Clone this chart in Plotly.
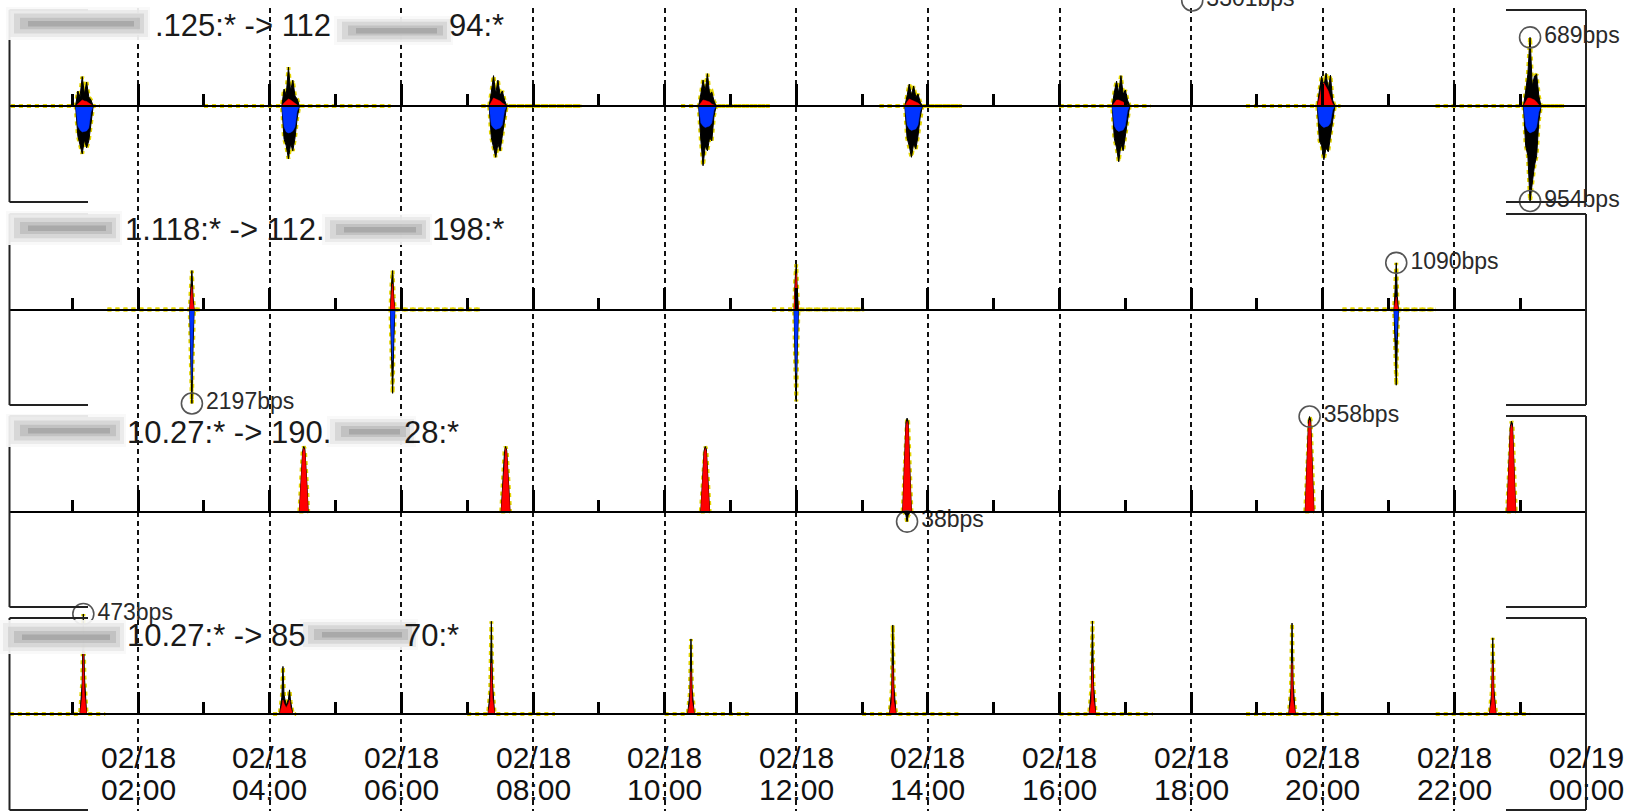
import plotly.graph_objects as go
import pandas as pd
import numpy as np

W, H = 1642, 811
BASE = pd.Timestamp("2025-02-18 00:00")
X_START = BASE + pd.Timedelta(minutes=2.7)
X_END = BASE + pd.Timedelta(hours=24)

# ---------------- data (minutes after 02/18 00:00, values in bps) ----------------
# Panel 1
p1_t = [4, 63, 65, 67, 69, 71, 73, 75, 77, 79, 85, None,
        180, 251, 253, 255, 257, 259, 261, 263, 265, 267, 350, None,
        433, 440, 442, 444, 446, 448, 450, 452, 454, 456, 524, None,
        615, 631, 633, 635, 637, 639, 641, 643, 645, 647, 696, None,
        796, 819, 821, 823, 825, 827, 829, 831, 833, 835, 871, None,
        960, 1008, 1010, 1012, 1014, 1016, 1018, 1020, 1022, 1024, 1043, None,
        1130, 1195, 1197, 1199, 1201, 1203, 1205, 1207, 1209, 1211, 1216, None,
        1303, 1383, 1385, 1387, 1389, 1391, 1393, 1395, 1397, 1399, 1420, None]
p1_up_max = [0, 0, 150, 90, 295, 120, 240, 90, 60, 0, 0, None,
             0, 0, 170, 110, 390, 150, 260, 100, 70, 0, 0, None,
             0, 0, 140, 305, 120, 260, 110, 150, 60, 0, 0, None,
             0, 0, 120, 260, 150, 325, 120, 140, 50, 0, 0, None,
             0, 0, 100, 220, 110, 200, 90, 120, 40, 0, 0, None,
             0, 0, 140, 250, 130, 305, 120, 160, 60, 0, 0, None,
             0, 0, 160, 300, 190, 330, 170, 310, 60, 0, 0, None,
             0, 0, 150, 320, 689, 200, 300, 320, 100, 0, 0, None]
p1_up_avg = [0, 0, 20, 40, 60, 50, 45, 30, 10, 0, 0, None,
             0, 0, 30, 50, 70, 60, 40, 30, 10, 0, 0, None,
             0, 0, 40, 80, 70, 60, 50, 30, 10, 0, 0, None,
             0, 0, 30, 60, 55, 50, 40, 20, 10, 0, 0, None,
             0, 0, 40, 70, 60, 50, 40, 30, 10, 0, 0, None,
             0, 0, 30, 60, 60, 50, 40, 20, 10, 0, 0, None,
             0, 0, 80, 200, 230, 190, 150, 80, 20, 0, 0, None,
             0, 0, 40, 80, 80, 70, 60, 40, 10, 0, 0, None]
p1_dn_max = [0, 0, 300, 380, 480, 340, 420, 350, 150, 0, 0, None,
             0, 0, 330, 400, 530, 380, 450, 320, 120, 0, 0, None,
             0, 0, 320, 420, 515, 380, 450, 300, 120, 0, 0, None,
             0, 0, 340, 600, 400, 450, 320, 350, 100, 0, 0, None,
             0, 0, 320, 400, 515, 380, 430, 300, 110, 0, 0, None,
             0, 0, 330, 420, 560, 380, 450, 300, 120, 0, 0, None,
             0, 0, 350, 400, 540, 420, 460, 300, 120, 0, 0, None,
             0, 0, 400, 500, 954, 770, 600, 500, 150, 0, 0, None]
p1_dn_avg = [0, 0, 200, 240, 260, 255, 250, 220, 60, 0, 0, None,
             0, 0, 210, 260, 270, 265, 250, 210, 50, 0, 0, None,
             0, 0, 190, 220, 235, 230, 220, 190, 50, 0, 0, None,
             0, 0, 170, 200, 215, 210, 200, 170, 40, 0, 0, None,
             0, 0, 190, 230, 245, 240, 230, 190, 50, 0, 0, None,
             0, 0, 200, 240, 255, 250, 240, 200, 50, 0, 0, None,
             0, 0, 170, 200, 215, 210, 200, 170, 40, 0, 0, None,
             0, 0, 200, 250, 270, 260, 250, 210, 60, 0, 0, None]

# Panel 2
p2_t = [92, 167, 168, 169, 170, 171, 178, None,
        349, 350, 351, 352, 353, 354, 432, None,
        698, 718, 719, 720, 721, 722, 782, None,
        1218, 1265, 1266, 1267, 1268, 1269, 1303, None]
p2_up_max = [0, 0, 500, 910, 300, 0, 0, None,
             0, 0, 600, 910, 300, 0, 0, None,
             0, 0, 700, 1060, 400, 0, 0, None,
             0, 0, 490, 1090, 300, 0, 0, None]
p2_up_avg = [0, 0, 300, 535, 150, 0, 0, None,
             0, 0, 350, 600, 200, 0, 0, None,
             0, 0, 500, 840, 300, 0, 0, None,
             0, 0, 150, 290, 100, 0, 0, None]
p2_dn_max = [0, 0, 1200, 2197, 900, 0, 0, None,
             0, 0, 1100, 1960, 800, 0, 0, None,
             0, 0, 1300, 2150, 900, 0, 0, None,
             0, 0, 900, 1770, 700, 0, 0, None]
p2_dn_avg = [0, 0, 900, 1650, 500, 0, 0, None,
             0, 0, 700, 1190, 400, 0, 0, None,
             0, 0, 900, 1490, 600, 0, 0, None,
             0, 0, 400, 720, 300, 0, 0, None]

# Panel 3
p3_t = [267, 268, 270, 271, 272, 274, 275, None,
        451, 452, 454, 455, 456, 458, 459, None,
        633, 634, 636, 637, 638, 640, 641, None,
        817, 818, 820, 821, 822, 824, 825, None,
        1184, 1185, 1187, 1188, 1189, 1191, 1192, None,
        1368, 1369, 1371, 1372, 1373, 1375, 1376, None]
p3_up_max = [0, 80, 230, 245, 235, 90, 0, None,
             0, 80, 225, 245, 230, 85, 0, None,
             0, 75, 230, 245, 235, 80, 0, None,
             0, 100, 335, 352, 340, 110, 0, None,
             0, 100, 340, 358, 345, 110, 0, None,
             0, 95, 320, 340, 330, 100, 0, None]
p3_up_avg = [0, 70, 220, 238, 228, 80, 0, None,
             0, 70, 215, 238, 222, 75, 0, None,
             0, 65, 220, 238, 226, 70, 0, None,
             0, 90, 320, 340, 326, 95, 0, None,
             0, 90, 325, 345, 330, 95, 0, None,
             0, 85, 305, 328, 315, 90, 0, None]
p3_dn_max = [0, 0, 0, 0, 0, 0, 0, None,
             0, 0, 0, 0, 0, 0, 0, None,
             0, 0, 0, 0, 0, 0, 0, None,
             0, 0, 15, 38, 15, 0, 0, None,
             0, 0, 0, 0, 0, 0, 0, None,
             0, 0, 0, 0, 0, 0, 0, None]
p3_dn_avg = [0, 0, 0, 0, 0, 0, 0, None,
             0, 0, 0, 0, 0, 0, 0, None,
             0, 0, 0, 0, 0, 0, 0, None,
             0, 0, 0, 0, 0, 0, 0, None,
             0, 0, 0, 0, 0, 0, 0, None,
             0, 0, 0, 0, 0, 0, 0, None]

# Panel 4
p4_t = [3, 67, 69, 70, 71, 73, 90, None,
        243, 249, 251, 252, 253, 255, 257, 258, 259, 261, 264, None,
        420, 439, 441, 442, 443, 445, 500, None,
        600, 621, 623, 624, 625, 627, 680, None,
        780, 805, 807, 808, 809, 811, 870, None,
        960, 987, 989, 990, 991, 993, 1045, None,
        1130, 1169, 1171, 1172, 1173, 1175, 1218, None,
        1303, 1352, 1354, 1355, 1356, 1358, 1389, None]
p4_up_max = [0, 0, 150, 473, 180, 0, 0, None,
             0, 0, 80, 225, 90, 40, 70, 114, 60, 0, 0, None,
             0, 0, 120, 438, 150, 0, 0, None,
             0, 0, 100, 355, 120, 0, 0, None,
             0, 0, 110, 421, 130, 0, 0, None,
             0, 0, 120, 440, 140, 0, 0, None,
             0, 0, 120, 430, 140, 0, 0, None,
             0, 0, 100, 360, 120, 0, 0, None]
p4_up_avg = [0, 0, 80, 300, 100, 0, 0, None,
             0, 0, 40, 66, 50, 30, 50, 66, 30, 0, 0, None,
             0, 0, 60, 241, 80, 0, 0, None,
             0, 0, 50, 200, 60, 0, 0, None,
             0, 0, 55, 230, 60, 0, 0, None,
             0, 0, 60, 240, 70, 0, 0, None,
             0, 0, 60, 241, 70, 0, 0, None,
             0, 0, 60, 241, 80, 0, 0, None]

# flow labels (visible, un-blurred parts)
label_left = [".125:* -> 112", "1.118:* -> 112.", "10.27:* -> 190.", "10.27:* -> 85"]
label_right = ["94:*", "198:*", "28:*", "70:*"]

# clipped marker of a flow above the visible area
ghost_t = 1081
ghost_v = 1060
ghost_text = "3301bps"

# x tick labels
tick_hours = [2, 4, 6, 8, 10, 12, 14, 16, 18, 20, 22, 24]
tick_dates = ["02/18"] * 11 + ["02/19"]
tick_times = ["02:00", "04:00", "06:00", "08:00", "10:00", "12:00",
              "14:00", "16:00", "18:00", "20:00", "22:00", "00:00"]

# ---------------- layout geometry (pixels) ----------------
panel_px = [(10, 202), (214, 405), (416, 607), (618, 810)]     # frame top / bottom
panel_dom_px = [(0, 202), (214, 405), (416, 607), (610, 810)]  # plotting area top / bottom
panel_range = [964, 2232, 360, 454]                            # bps at half frame height
XL, XR = 9.5, 1586
label_y = [26, 229, 432, 635]
label_x0 = [153, 123, 125, 125]
label_x1 = [506, 506, 461, 461]
blur_a = [(6, 150, 7, 40), (6, 122, 211, 245), (6, 126, 414, 447), (0, 126, 620, 654)]
blur_b = [(334, 453, 16, 45), (322, 432, 214, 245), (327, 416, 416, 447), (300, 418, 619, 650)]


def pxx(x):
    return x / W


def pxy(y):
    return 1 - y / H


def to_dt(ts):
    return [BASE + pd.Timedelta(minutes=m) if m is not None else None for m in ts]


def neg(vs):
    return [-v if v is not None else None for v in vs]


fig = go.Figure()
# grid subplot
fig.add_trace(go.Scatter(x=[], y=[], xaxis="x", yaxis="y", hoverinfo="skip"))

panels = [
    (p1_t, p1_up_max, p1_up_avg, p1_dn_max, p1_dn_avg),
    (p2_t, p2_up_max, p2_up_avg, p2_dn_max, p2_dn_avg),
    (p3_t, p3_up_max, p3_up_avg, p3_dn_max, p3_dn_avg),
    (p4_t, p4_up_max, p4_up_avg, None, None),
]

YEL = "#e3d400"
CIRC = "#555555"
MF = dict(family="Liberation Sans", size=23, color="#2a2a2a")
for k, (t, umax, uavg, dmax, davg) in enumerate(panels):
    xa, ya = f"x{k + 2}", f"y{k + 2}"
    x = to_dt(t)
    common = dict(xaxis=xa, yaxis=ya, hoverinfo="skip", mode="lines")
    fig.add_trace(go.Scatter(x=x, y=umax, line=dict(color=YEL, width=4, dash="dot"), **common))
    if dmax is not None:
        fig.add_trace(go.Scatter(x=x, y=neg(dmax), line=dict(color=YEL, width=4, dash="dot"), **common))
    fig.add_trace(go.Scatter(x=x, y=umax, fill="tozeroy", fillcolor="black",
                             line=dict(color="black", width=1), **common))
    if dmax is not None:
        fig.add_trace(go.Scatter(x=x, y=neg(dmax), fill="tozeroy", fillcolor="black",
                                 line=dict(color="black", width=1), **common))
    fig.add_trace(go.Scatter(x=x, y=uavg, fill="tozeroy", fillcolor="#ff0000",
                             line=dict(color="#ff0000", width=0.5), **common))
    if davg is not None:
        fig.add_trace(go.Scatter(x=x, y=neg(davg), fill="tozeroy", fillcolor="#0033ff",
                                 line=dict(color="#0033ff", width=0.5), **common))

    # peak markers
    mx, my, mt = [], [], []
    uv = np.array([v if v is not None else -1 for v in umax], dtype=float)
    i = int(np.argmax(uv))
    mx.append(x[i]); my.append(umax[i]); mt.append(f"{umax[i]}bps")
    if dmax is not None:
        dv = np.array([v if v is not None else -1 for v in dmax], dtype=float)
        j = int(np.argmax(dv))
        mx.append(x[j]); my.append(-dmax[j]); mt.append(f"{dmax[j]}bps")
    fig.add_trace(go.Scatter(x=mx, y=my, mode="markers+text", text=mt,
                             textposition="middle right", textfont=MF,
                             marker=dict(symbol="circle-open", size=21, color=CIRC,
                                         line=dict(color=CIRC, width=1.6)),
                             cliponaxis=False, xaxis=xa, yaxis=ya, hoverinfo="skip"))

# ghost marker at very top
fig.add_trace(go.Scatter(x=to_dt([ghost_t]), y=[ghost_v], mode="markers+text", text=[ghost_text],
                         textposition="middle right", textfont=MF,
                         marker=dict(symbol="circle-open", size=21, color=CIRC,
                                     line=dict(color=CIRC, width=1.6)),
                         cliponaxis=False, xaxis="x2", yaxis="y2", hoverinfo="skip"))

xdom = [pxx(XL), pxx(XR)]
layout = dict(
    width=W, height=H, margin=dict(l=0, r=0, t=0, b=0),
    paper_bgcolor="white", plot_bgcolor="rgba(0,0,0,0)", showlegend=False,
    xaxis=dict(domain=xdom, range=[X_START, X_END], type="date", showgrid=True,
               gridcolor="#111111", gridwidth=2, griddash="5px,4px",
               dtick=7200000, tick0=BASE, showticklabels=False, ticks="",
               zeroline=False, showline=False, fixedrange=True, anchor="y"),
    yaxis=dict(domain=[0, pxy(8)], range=[0, 1], visible=False, fixedrange=True),
)
for k, ((top, bot), (dtop, dbot)) in enumerate(zip(panel_px, panel_dom_px)):
    zero = (top + bot) / 2
    half = bot - zero
    R = panel_range[k]
    layout[f"xaxis{k + 2}"] = dict(
        domain=xdom, range=[X_START, X_END], type="date", matches="x",
        anchor="free", position=pxy(zero), side="bottom",
        showline=True, linecolor="black", linewidth=2,
        ticks="inside", ticklen=21, tickwidth=3, tickcolor="black",
        dtick=7200000, tick0=BASE, showticklabels=False, showgrid=False, zeroline=False,
        minor=dict(dtick=3600000, tick0=BASE, ticks="inside", ticklen=11, tickwidth=3,
                   tickcolor="black", showgrid=False),
        fixedrange=True)
    layout[f"yaxis{k + 2}"] = dict(domain=[pxy(dbot), pxy(dtop)],
                                   range=[-R * (dbot - zero) / half, R * (zero - dtop) / half],
                                   visible=False, fixedrange=True, anchor=f"x{k + 2}")
fig.update_layout(**layout)

shapes = []
LC = "#222222"
for (top, bot) in panel_px:
    for seg in [((XL, top), (XL, bot)), ((XL, top), (88, top)), ((XL, bot), (88, bot)),
                ((XR, top), (XR, bot)), ((1506, top), (XR, top)), ((1506, bot), (XR, bot))]:
        (x0, y0), (x1, y1) = seg
        shapes.append(dict(type="line", xref="paper", yref="paper", x0=pxx(x0), x1=pxx(x1),
                           y0=pxy(y0), y1=pxy(y1), line=dict(color=LC, width=2), layer="above"))


def rect(x0, x1, y0, y1, color):
    return dict(type="rect", xref="paper", yref="paper", x0=pxx(x0), x1=pxx(x1),
                y0=pxy(y1), y1=pxy(y0), fillcolor=color, line=dict(width=0), layer="above")


def blur(x0, x1, y0, y1):
    mid = (y0 + y1) / 2
    hh = (y1 - y0) / 2
    return [
        rect(x0, x1, y0, y1, "rgba(248,248,248,0.92)"),
        rect(x0 + 3, x1 - 2, y0 + 3, y1 - 3, "rgba(230,230,230,0.7)"),
        rect(x0 + 8, x1 - 6, mid - hh * 0.6, mid + hh * 0.6, "rgba(205,205,205,0.65)"),
        rect(x0 + 14, x1 - 10, mid - hh * 0.35, mid + hh * 0.35, "rgba(180,180,180,0.6)"),
        rect(x0 + 22, x1 - 16, mid - 2.5, mid + 3, "rgba(150,150,150,0.55)"),
    ]


for k in range(4):
    shapes += blur(*blur_a[k])
    shapes += blur(*blur_b[k])
fig.update_layout(shapes=shapes)

ann = []
LF = dict(family="Liberation Sans", size=31, color="#1a1a1a")
for k in range(4):
    ann.append(dict(text=label_left[k], xref="paper", yref="paper", x=pxx(label_x0[k]), y=pxy(label_y[k]),
                    xanchor="left", yanchor="middle", showarrow=False, font=LF))
    ann.append(dict(text=label_right[k], xref="paper", yref="paper", x=pxx(label_x1[k]), y=pxy(label_y[k]),
                    xanchor="right", yanchor="middle", showarrow=False, font=LF))
TF = dict(family="Liberation Sans", size=30, color="#111111")
for h, d, tm in zip(tick_hours, tick_dates, tick_times):
    xt = BASE + pd.Timedelta(hours=h)
    ann.append(dict(text=d, xref="x", yref="paper", x=xt, y=pxy(757), xanchor="center",
                    yanchor="middle", showarrow=False, font=TF))
    ann.append(dict(text=tm, xref="x", yref="paper", x=xt, y=pxy(789), xanchor="center",
                    yanchor="middle", showarrow=False, font=TF))
fig.update_layout(annotations=ann)

fig.write_html("out.html")
